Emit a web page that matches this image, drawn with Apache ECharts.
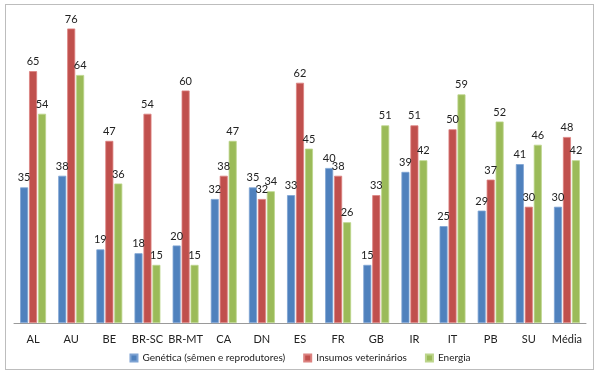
<!DOCTYPE html>
<html><head><meta charset="utf-8">
<script src="https://cdn.jsdelivr.net/npm/echarts@6/dist/echarts.min.js"></script>
<style>
html,body{margin:0;padding:0;background:#fff;}
#frame{position:absolute;left:5px;top:4px;width:589px;height:366px;border:1px solid #bdbdbd;box-sizing:border-box;}
#chart{position:absolute;left:0;top:0;width:600px;height:375px;}
</style></head>
<body>
<div id="frame"></div>
<div id="chart"></div>
<script>
const categories = ['AL','AU','BE','BR-SC','BR-MT','CA','DN','ES','FR','GB','IR','IT','PB','SU','Média'];
const seriesNames = ['Genética (sêmen e reprodutores)','Insumos veterinários','Energia'];
const genetica = [35,38,19,18,20,32,35,33,40,15,39,25,29,41,30];
const insumos = [65,76,47,54,60,38,32,62,38,33,51,50,37,30,48];
const energia = [54,64,36,15,15,47,34,45,26,51,42,59,52,46,42];
const colors = ['#4F81BD','#C0504D','#9BBB59'];
const borders = ['#7ea3d3','#dc8280','#bcd58b'];
const FONT = 'Lato, "Open Sans", sans-serif';

const chart = echarts.init(document.getElementById('chart'));
const mk = (name, data, i) => ({
  name, type:'bar', data,
  barWidth: 8, barGap: '12%',
  itemStyle:{color:colors[i], borderColor:borders[i], borderWidth:0.8},
  label:{show:true, position:'top', distance:4, color:'#222', fontSize:11, fontFamily:FONT},
  emphasis:{disabled:true}
});
chart.setOption({
  animation:false,
  grid:{left:14, right:14, top:13, bottom:52, containLabel:false},
  legend:{
    bottom:7, left:'center', itemWidth:7, itemHeight:7, itemGap:18,
    textStyle:{fontSize:10, color:'#222', fontFamily:FONT},
    icon:'rect',
    data: seriesNames
  },
  xAxis:{
    type:'category', data:categories,
    axisLine:{lineStyle:{color:'#9a9a9a', width:1}},
    axisTick:{show:false},
    axisLabel:{color:'#222', fontSize:11, fontFamily:FONT, margin:11, interval:0}
  },
  yAxis:{
    type:'value', min:0, max:80, interval:20, show:false,
    splitLine:{show:false}
  },
  series:[mk(seriesNames[0], genetica, 0), mk(seriesNames[1], insumos, 1), mk(seriesNames[2], energia, 2)]
});
</script>
</body></html>
